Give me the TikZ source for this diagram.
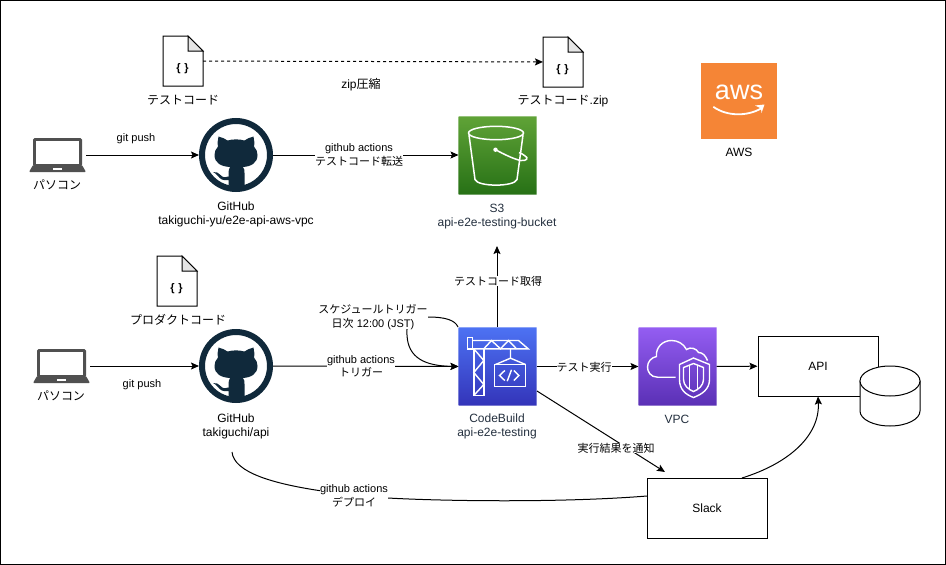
\documentclass[tikz,border=0pt]{standalone}
\usepackage{fontspec}
\setmainfont{Liberation Sans}
\newfontfamily\jpfont{Noto Sans CJK JP}
\newcommand{\ja}[1]{{\jpfont #1}}
\usetikzlibrary{arrows.meta}
\definecolor{slate}{HTML}{232F3E}
\definecolor{octo}{HTML}{10293B}
\definecolor{pcgray}{HTML}{505050}
\definecolor{s3top}{HTML}{60A337}
\definecolor{s3bot}{HTML}{277116}
\definecolor{cbtop}{HTML}{4D72F3}
\definecolor{cbbot}{HTML}{3334B9}
\definecolor{vpctop}{HTML}{945DF2}
\definecolor{vpcbot}{HTML}{5A30B5}
\definecolor{awsorange}{HTML}{F58536}
\tikzset{
  >={Stealth[length=8pt,width=7pt,inset=1.5pt]},
  small/.style = {font=\fontsize{11}{13.5}\selectfont},
  big/.style = {font=\fontsize{12}{14}\selectfont, align=center},
  lbl/.style = {small, fill=white, inner sep=0pt, align=center},
  plain/.style = {small, inner sep=0pt, align=center},
  box/.style = {big, draw, fill=white, minimum width=120, minimum height=60},
  awsnode/.style = {draw=white, draw opacity=.35, inner sep=0pt, outer sep=0pt, minimum size=78},
  docnode/.style = {inner sep=0pt, outer sep=0pt, minimum width=40, minimum height=50},
  pcnode/.style = {inner sep=0pt, outer sep=0pt, minimum width=57, minimum height=34},
  ghnode/.style = {circle, draw=octo, fill=white, line width=6, inner sep=0pt, minimum size=68},
  docicon/.pic = {
    \draw[fill=white] (0,0) -- (25,0) -- (40,15) -- (40,50) -- (0,50) -- cycle;
    \draw[fill=black!10] (25,0) -- (40,15) -- (25,15) -- cycle;
    \node[font=\fontsize{11}{13}\selectfont\bfseries, inner sep=0pt] (-brace) at (19.5,33) {\{\,\,\}};
  },
  pcicon/.pic = {
    \fill[pcgray, rounded corners=1.5] (4,0) rectangle (53,28);
    \fill[white] (7,3) rectangle (50,25.5);
    \fill[pcgray, rounded corners=1] (4,27) -- (53,27) -- (57,34) -- (0,34) -- cycle;
    \fill[white] (24,29.7) rectangle (33,32);
  },
  caticon/.pic = {
    \fill[octo] (-17.5,-18.5) .. controls (-14,-18) and (-11,-16) .. (-8.5,-14.5)
      .. controls (-3,-16) and (3,-16) .. (8.5,-14.5)
      .. controls (11,-16) and (14,-18) .. (17.5,-18.5)
      .. controls (18.5,-15) and (18.5,-11) .. (18,-8.5)
      .. controls (20.5,-6) and (21.5,-3) .. (21.5,0)
      .. controls (21.5,8) and (15,11.5) .. (7,12)
      .. controls (8.5,13.5) and (8.5,16) .. (8.5,18) -- (8.5,30.5)
      .. controls (3,31.5) and (-3,31.5) .. (-7.5,30.5) -- (-7.5,25)
      .. controls (-13,26) and (-16,24) .. (-18,21)
      .. controls (-20,18.5) and (-22,17.5) .. (-23,17)
      .. controls (-20,16.5) and (-17,18) .. (-15.5,20)
      .. controls (-13,23) and (-10,22.5) .. (-7.5,21.5) -- (-7.5,18)
      .. controls (-7.5,16) and (-7,13.5) .. (-6,12)
      .. controls (-15,11.5) and (-21.5,8) .. (-21.5,0)
      .. controls (-21.5,-3) and (-20.5,-6) .. (-18,-8.5)
      .. controls (-18.5,-11) and (-18.5,-15) .. (-17.5,-18.5) -- cycle;
  },
  bucketicon/.pic = {
    \begin{scope}[white, line width=1.5]
      \draw (37.5,17) ellipse (27.5 and 6.7);
      \draw (10.5,19) -- (16.5,63.5) .. controls (19,71) and (56,71) .. (58.5,63.5) -- (64.5,19);
      \draw (37,33.7) .. controls (45,38) and (55,43) .. (62,44.5)
        .. controls (68,45.5) and (71,42) .. (66,39.5) .. controls (64,38) and (62,37) .. (60.5,36.5);
      \fill (37,33.7) circle (2.2);
    \end{scope}
  },
  crane/.pic = {
    \begin{scope}[white, line width=1.4, line join=miter]
      \draw (8.7,9.7) rectangle (13.7,21.3);
      \draw (15.3,21.3) -- (15.3,68) -- (25.3,68) -- (25.3,21.3);
      \draw (15.3,21.3) -- (25.3,33) -- (15.3,45) -- (25.3,57) -- (15.3,68);
      \draw (13.7,13) -- (60,13) -- (69.7,21.3) -- (13.7,21.3);
      \draw (25.3,21.3) -- (33,13) -- (42,21.3) -- (50,13) -- (58,21.3);
      \draw (52,21.3) -- (52,30.7) -- (37,37) (52,30.7) -- (67,37);
      \draw (36,37) rectangle (67,58.7);
      \draw (46.3,43) -- (41,48) -- (46.3,53) (55.3,43) -- (60.3,48) -- (55.3,53) (53,42.3) -- (48.7,53.7);
    \end{scope}
  },
  vpcicon/.pic = {
    \begin{scope}[white, line width=1.4]
      \draw (37,49.7) -- (19,49.7) .. controls (12,49.7) and (9,44) .. (9,39.7)
        .. controls (9,34) and (13,30) .. (18,29) .. controls (17,20) and (24,13) .. (33,13)
        .. controls (39,13) and (45,16) .. (48,22) .. controls (52,19) and (58,21) .. (60,25)
        .. controls (64,25) and (67,28) .. (69,33);
      \draw (55,30.5) -- (71,37) -- (71,52) .. controls (71,62) and (63,67) .. (55,70)
        .. controls (47,67) and (41,62) .. (41,52) -- (41,37) -- cycle;
      \draw (55,36) -- (65,40) -- (65,52) .. controls (65,58) and (60,62) .. (55,64)
        .. controls (50,62) and (45,58) .. (45,52) -- (45,40) -- cycle;
      \draw (51,38) -- (51,62) (59,38) -- (59,62);
    \end{scope}
  },
  smile/.pic = {
    \node[white, font=\fontsize{27}{27}\selectfont, inner sep=0pt] (-word) at (38,30) {aws};
    \draw[white, line width=1.8] (12.3,44.3) .. controls (26,54) and (46,54) .. (60,46);
    \fill[white] (54,43) -- (63.5,42) -- (60.5,50.5) -- (60,46) -- cycle;
  }
}

\begin{document}
\begin{tikzpicture}[x=1pt,y=-1pt,line width=1pt]
  \useasboundingbox (0,0) rectangle (946,565);
  \draw (0.5,0.5) rectangle (945.5,564.5);

  \node[docnode] (testdoc) at (183,61) {};
  \node[docnode] (zipdoc) at (563,62) {};
  \node[docnode] (proddoc) at (177,281) {};
  \pic (d1) at (testdoc.north west) {docicon};
  \pic (d2) at (zipdoc.north west) {docicon};
  \pic (d3) at (proddoc.north west) {docicon};

  \node[pcnode] (pctop) at (57.5,155) {};
  \node[pcnode] (pcbot) at (61.5,366) {};
  \pic at (pctop.north west) {pcicon};
  \pic at (pcbot.north west) {pcicon};

  \node[ghnode] (ghtop) at (236,155) {};
  \node[ghnode] (ghbot) at (236,366) {};
  \pic at (ghtop) {caticon};
  \pic at (ghbot) {caticon};

  \node[awsnode, top color=s3top, bottom color=s3bot] (s3) at (497.5,155) {};
  \node[awsnode, top color=cbtop, bottom color=cbbot] (cb) at (497.5,366.5) {};
  \node[awsnode, top color=vpctop, bottom color=vpcbot] (vpc) at (677.5,366.5) {};
  \node[inner sep=0pt, outer sep=0pt, minimum size=76, fill=awsorange] (aws) at (739,100.5) {};
  \pic at (s3.north west) {bucketicon};
  \pic at (cb.north west) {crane};
  \pic at (vpc.north west) {vpcicon};
  \pic (a1) at (aws.north west) {smile};

  \node[box] (api) at (818,366) {API};
  \node[box] (slack) at (707,508) {Slack};
  \draw[fill=white] (860,381) -- (860,411) arc[start angle=180, end angle=360, x radius=30, y radius=-15]
    -- (920,381) -- cycle;
  \draw[fill=white] (890,381) ellipse (30 and 15);

  \coordinate (s3in) at (497,246);
  \coordinate (cbup) at (497,327);
  \coordinate (cbcorner) at (458,327);
  \coordinate (cbout) at (537,391);
  \coordinate (slackin) at (665,472);
  \coordinate (slackleft) at (647,496);
  \coordinate (slacktop) at (742,478);
  \coordinate (deploy) at (232,452);

  \draw[->] (pctop) -- (ghtop);
  \draw[->] (pcbot) -- (ghbot);
  \draw[->] (ghtop) -- (s3);
  \draw[->] (ghbot) -- (cb);
  \draw[->,dash pattern=on 3pt off 3pt] (testdoc) -- (zipdoc);
  \draw[->] (cbup) -- (s3in);
  \draw[->] (cb) -- (vpc);
  \draw[->] (vpc) -- (api);
  \draw[->] (cbout) -- (slackin);
  \draw[->] (cbcorner) .. controls (455,320) and (445,317) .. (428,317)
    .. controls (410,317) and (406,322) .. (407,335)
    .. controls (408,358) and (425,366) .. (cb.west);
  \draw (deploy) .. controls (234,473) and (275,484) .. (322,491)
    .. controls (345,494.5) and (375,497.5) .. (388,498)
    .. controls (440,501) and (560,503) .. (slackleft);
  \draw[->] (slacktop) .. controls (790,463) and (820,435) .. (api.south);

  \node[big] (testlbl) at (183,100) {\ja{テストコード}};
  \node[big] (ziplbl) at (563,101) {\ja{テストコード}.zip};
  \node[big] (prodlbl) at (178,320) {\ja{プロダクトコード}};
  \node[big] (pctoplbl) at (57,185) {\ja{パソコン}};
  \node[big] (pcbotlbl) at (61,396) {\ja{パソコン}};
  \node[big] (ghtoplbl) at (236,214.5) {GitHub\\takiguchi-yu/e2e-api-aws-vpc};
  \node[big] (ghbotlbl) at (236,426) {GitHub\\takiguchi/api};
  \node[big, text=slate] (s3lbl) at (497,216.5) {S3\\api-e2e-testing-bucket};
  \node[big, text=slate] (cblbl) at (497,426.5) {CodeBuild\\api-e2e-testing};
  \node[big, text=slate] (vpclbl) at (677,419) {VPC};
  \node[big] (awslbl) at (739,152) {AWS};
  \node[big] (zipedge) at (361,85) {zip\ja{圧縮}};
  \node[plain] (pushtop) at (136,139) {git push};
  \node[plain] (pushbot) at (142,385) {git push};
  \node[lbl] (xferlbl) at (359,155) {github actions\\\ja{テストコード転送}};
  \node[lbl] (trigger) at (361,366) {github actions\\\ja{トリガー}};
  \node[lbl] (schedule) at (373,317) {\ja{スケジュールトリガー}\\\ja{日次} 12:00 (JST)};
  \node[lbl] (fetch) at (498,281) {\ja{テストコード取得}};
  \node[lbl] (runtest) at (584,367) {\ja{テスト実行}};
  \node[lbl] (notify) at (616,448) {\ja{実行結果を通知}};
  \node[lbl] (deploylbl) at (354,496) {github actions\\\ja{デプロイ}};
\end{tikzpicture}
\end{document}
